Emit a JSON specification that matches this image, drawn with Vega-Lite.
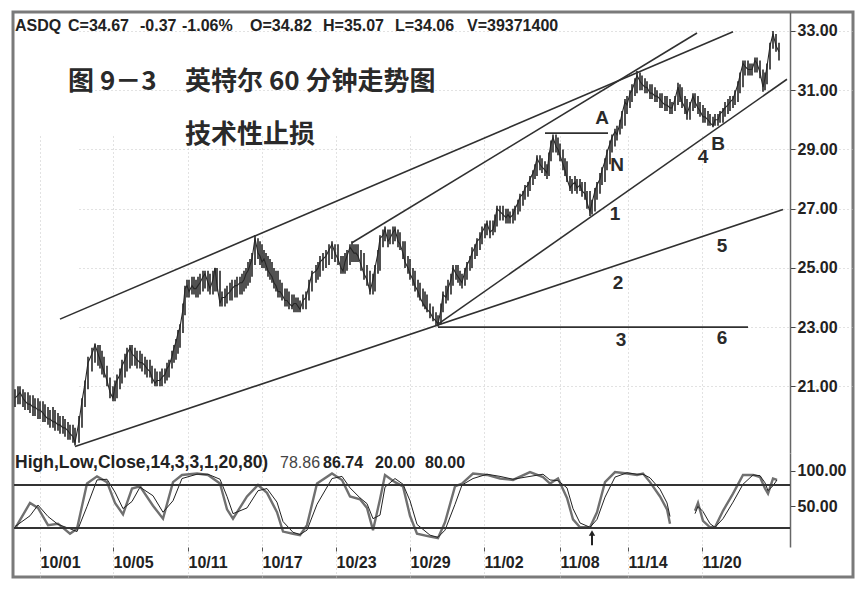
{
"$schema":"https://vega.github.io/schema/vega-lite/v6.json",
"width":840,"height":565,
"autosize":{"type":"none"},
"padding":{"left":13,"top":12,"right":13,"bottom":16},
"background":"white",
"config":{"font":"Liberation Sans","view":{"stroke":"#7a7a7a","strokeWidth":3}},
"datasets":{
"bars":[
{"t":1,"h":20.9,"l":20.3,"c":20.6},{"t":4,"h":21.0,"l":20.4,"c":20.7},{"t":6,"h":21.0,"l":20.4,"c":20.8},{"t":9,"h":20.9,"l":20.3,"c":20.6},{"t":11,"h":20.8,"l":20.2,"c":20.5},{"t":14,"h":20.8,"l":20.2,"c":20.4},{"t":16,"h":20.7,"l":20.1,"c":20.4},{"t":19,"h":20.7,"l":20.0,"c":20.3},{"t":21,"h":20.6,"l":20.0,"c":20.3},{"t":24,"h":20.6,"l":19.9,"c":20.2},{"t":26,"h":20.5,"l":19.9,"c":20.2},{"t":29,"h":20.5,"l":19.8,"c":20.1},{"t":31,"h":20.4,"l":19.8,"c":20.0},{"t":34,"h":20.3,"l":19.7,"c":19.9},{"t":36,"h":20.2,"l":19.6,"c":19.9},{"t":39,"h":20.3,"l":19.6,"c":19.8},{"t":41,"h":20.2,"l":19.5,"c":19.8},{"t":44,"h":20.1,"l":19.5,"c":19.7},{"t":46,"h":20.0,"l":19.4,"c":19.7},{"t":49,"h":20.0,"l":19.4,"c":19.6},{"t":51,"h":19.9,"l":19.3,"c":19.6},{"t":54,"h":19.8,"l":19.2,"c":19.5},{"t":56,"h":19.7,"l":19.2,"c":19.4},{"t":59,"h":19.7,"l":19.1,"c":19.3},{"t":61,"h":19.6,"l":19.0,"c":19.1},{"t":65,"h":20.0,"l":19.1,"c":19.8},{"t":68,"h":20.6,"l":19.6,"c":20.5},{"t":71,"h":21.2,"l":20.3,"c":21.1},{"t":74,"h":22.0,"l":20.9,"c":21.8},{"t":78,"h":22.3,"l":21.5,"c":22.1},{"t":81,"h":22.45,"l":21.8,"c":22.4},{"t":84,"h":22.4,"l":21.7,"c":22.1},{"t":86,"h":22.4,"l":21.6,"c":21.9},{"t":88,"h":22.2,"l":21.4,"c":21.7},{"t":90,"h":22.0,"l":21.3,"c":21.5},{"t":93,"h":21.7,"l":21.0,"c":21.2},{"t":96,"h":21.3,"l":20.6,"c":20.8},{"t":99,"h":21.0,"l":20.5,"c":20.6},
{"t":101,"h":21.2,"l":20.5,"c":21.0},{"t":103,"h":21.4,"l":20.6,"c":21.2},{"t":106,"h":21.6,"l":20.9,"c":21.4},{"t":108,"h":21.9,"l":21.1,"c":21.7},{"t":111,"h":22.1,"l":21.3,"c":21.9},{"t":113,"h":22.3,"l":21.5,"c":22.1},{"t":116,"h":22.4,"l":21.6,"c":22.3},{"t":118,"h":22.4,"l":21.7,"c":22.1},{"t":121,"h":22.3,"l":21.7,"c":22.0},{"t":123,"h":22.2,"l":21.6,"c":21.9},{"t":126,"h":22.2,"l":21.6,"c":21.8},{"t":128,"h":22.1,"l":21.5,"c":21.8},{"t":131,"h":22.0,"l":21.4,"c":21.7},{"t":133,"h":21.9,"l":21.3,"c":21.6},{"t":136,"h":21.9,"l":21.3,"c":21.5},{"t":138,"h":21.7,"l":21.1,"c":21.3},{"t":141,"h":21.6,"l":21.0,"c":21.1},{"t":143,"h":21.5,"l":21.0,"c":21.2},{"t":146,"h":21.5,"l":21.0,"c":21.2},{"t":148,"h":21.6,"l":21.0,"c":21.3},{"t":151,"h":21.6,"l":21.1,"c":21.4},{"t":153,"h":21.8,"l":21.2,"c":21.6},{"t":155,"h":21.9,"l":21.3,"c":21.7},{"t":158,"h":22.2,"l":21.6,"c":22.0},{"t":160,"h":22.4,"l":21.8,"c":22.3},{"t":162,"h":22.6,"l":21.9,"c":22.5},{"t":164,"h":22.9,"l":22.1,"c":22.8},{"t":166,"h":23.1,"l":22.3,"c":23.0},{"t":169,"h":23.8,"l":22.8,"c":23.6},{"t":171,"h":24.4,"l":23.4,"c":24.3},{"t":173,"h":24.6,"l":24.0,"c":24.4},{"t":175,"h":24.6,"l":24.0,"c":24.2},{"t":178,"h":24.7,"l":24.1,"c":24.4},{"t":180,"h":24.7,"l":24.1,"c":24.3},{"t":182,"h":24.6,"l":24.0,"c":24.3},{"t":184,"h":24.7,"l":24.0,"c":24.4},{"t":186,"h":24.8,"l":24.1,"c":24.5},{"t":189,"h":24.9,"l":24.2,"c":24.7},{"t":191,"h":24.9,"l":24.3,"c":24.8},{"t":194,"h":24.9,"l":24.2,"c":24.5},{"t":196,"h":24.8,"l":24.1,"c":24.3},{"t":199,"h":24.9,"l":24.1,"c":24.6},{"t":201,"h":25.0,"l":24.2,"c":25.0},
{"t":203,"h":25.0,"l":24.2,"c":24.4},{"t":206,"h":24.9,"l":23.7,"c":23.8},{"t":208,"h":24.2,"l":23.7,"c":24.0},{"t":211,"h":24.3,"l":23.7,"c":24.0},{"t":213,"h":24.4,"l":23.8,"c":24.1},{"t":216,"h":24.5,"l":23.9,"c":24.2},{"t":218,"h":24.6,"l":23.9,"c":24.3},{"t":221,"h":24.6,"l":24.0,"c":24.4},{"t":223,"h":24.7,"l":24.0,"c":24.4},{"t":226,"h":24.7,"l":24.1,"c":24.5},{"t":228,"h":24.8,"l":24.1,"c":24.5},{"t":230,"h":24.9,"l":24.2,"c":24.6},{"t":232,"h":25.0,"l":24.3,"c":24.8},{"t":234,"h":25.2,"l":24.4,"c":24.9},{"t":236,"h":25.3,"l":24.5,"c":25.1},{"t":238,"h":25.5,"l":24.7,"c":25.3},{"t":241,"h":26.1,"l":25.1,"c":26.0},{"t":244,"h":26.0,"l":25.3,"c":25.5},{"t":246,"h":25.9,"l":25.1,"c":25.4},{"t":248,"h":25.8,"l":25.0,"c":25.2},{"t":250,"h":25.6,"l":25.0,"c":25.3},{"t":252,"h":25.5,"l":24.9,"c":25.1},{"t":254,"h":25.4,"l":24.7,"c":24.9},{"t":256,"h":25.3,"l":24.6,"c":24.8},{"t":258,"h":25.2,"l":24.5,"c":24.7},{"t":260,"h":25.0,"l":24.3,"c":24.5},{"t":262,"h":24.9,"l":24.2,"c":24.4},{"t":264,"h":24.9,"l":24.0,"c":24.2},{"t":266,"h":24.6,"l":24.0,"c":24.2},{"t":268,"h":24.5,"l":23.9,"c":24.1},{"t":271,"h":24.3,"l":23.7,"c":23.9},{"t":273,"h":24.3,"l":23.7,"c":23.9},{"t":275,"h":24.2,"l":23.6,"c":23.8},{"t":278,"h":24.1,"l":23.6,"c":23.7},{"t":280,"h":24.1,"l":23.5,"c":23.8},{"t":282,"h":24.0,"l":23.5,"c":23.8},{"t":284,"h":24.0,"l":23.5,"c":23.7},{"t":286,"h":23.9,"l":23.5,"c":23.6},{"t":289,"h":24.1,"l":23.6,"c":23.9},{"t":292,"h":24.2,"l":23.6,"c":24.0},{"t":295,"h":24.6,"l":23.9,"c":24.4},{"t":298,"h":24.9,"l":24.2,"c":24.8},
{"t":302,"h":25.1,"l":24.5,"c":24.9},{"t":304,"h":25.2,"l":24.6,"c":25.0},{"t":306,"h":25.4,"l":24.7,"c":25.2},{"t":309,"h":25.5,"l":24.9,"c":25.3},{"t":312,"h":25.6,"l":25.0,"c":25.4},{"t":315,"h":25.8,"l":25.1,"c":25.6},{"t":318,"h":25.9,"l":25.3,"c":25.8},{"t":321,"h":25.8,"l":25.2,"c":25.5},{"t":324,"h":25.8,"l":25.1,"c":25.3},{"t":327,"h":25.4,"l":24.8,"c":25.0},{"t":329,"h":25.4,"l":24.8,"c":24.9},{"t":331,"h":25.5,"l":24.8,"c":25.2},{"t":333,"h":25.6,"l":24.9,"c":25.4},{"t":336,"h":25.8,"l":25.1,"c":25.7},{"t":338,"h":25.9,"l":25.2,"c":25.6},{"t":340,"h":25.8,"l":25.2,"c":25.5},{"t":342,"h":25.8,"l":25.2,"c":25.5},{"t":344,"h":25.8,"l":25.2,"c":25.4},{"t":347,"h":25.6,"l":24.9,"c":25.1},{"t":350,"h":25.5,"l":24.6,"c":24.8},{"t":353,"h":25.1,"l":24.4,"c":24.6},{"t":356,"h":24.9,"l":24.1,"c":24.2},{"t":359,"h":24.8,"l":24.1,"c":24.6},{"t":361,"h":25.1,"l":24.2,"c":25.0},{"t":364,"h":25.6,"l":24.8,"c":25.5},{"t":366,"h":26.1,"l":24.9,"c":26.0},{"t":369,"h":26.3,"l":25.7,"c":26.1},{"t":371,"h":26.4,"l":25.9,"c":26.3},{"t":374,"h":26.3,"l":25.7,"c":25.9},{"t":376,"h":26.3,"l":25.8,"c":26.0},{"t":379,"h":26.4,"l":25.8,"c":26.2},{"t":381,"h":26.4,"l":25.9,"c":26.3},{"t":384,"h":26.3,"l":25.7,"c":25.9},{"t":386,"h":26.2,"l":25.6,"c":25.8},{"t":389,"h":25.9,"l":25.3,"c":25.5},{"t":391,"h":25.9,"l":25.0,"c":25.2},{"t":394,"h":25.4,"l":24.8,"c":25.0},{"t":396,"h":25.3,"l":24.6,"c":24.8},{"t":399,"h":25.0,"l":24.4,"c":24.6},
{"t":401,"h":24.9,"l":24.2,"c":24.4},{"t":404,"h":24.6,"l":24.0,"c":24.2},{"t":406,"h":24.5,"l":23.9,"c":24.0},{"t":409,"h":24.3,"l":23.7,"c":23.8},{"t":411,"h":24.2,"l":23.6,"c":23.7},{"t":413,"h":24.1,"l":23.5,"c":23.6},{"t":416,"h":23.8,"l":23.3,"c":23.5},{"t":419,"h":23.7,"l":23.2,"c":23.3},{"t":422,"h":23.5,"l":23.05,"c":23.2},{"t":424,"h":23.4,"l":23.02,"c":23.1},{"t":427,"h":23.8,"l":23.1,"c":23.6},{"t":429,"h":24.2,"l":23.5,"c":24.1},{"t":432,"h":24.4,"l":23.8,"c":24.0},{"t":434,"h":24.6,"l":23.9,"c":24.3},{"t":437,"h":24.8,"l":24.1,"c":24.6},{"t":439,"h":25.1,"l":24.4,"c":25.0},{"t":442,"h":25.1,"l":24.6,"c":24.8},{"t":444,"h":25.1,"l":24.5,"c":24.7},{"t":446,"h":24.9,"l":24.4,"c":24.6},{"t":448,"h":24.8,"l":24.3,"c":24.5},{"t":451,"h":25.0,"l":24.4,"c":24.9},{"t":453,"h":25.2,"l":24.6,"c":25.1},{"t":456,"h":25.4,"l":24.9,"c":25.3},{"t":458,"h":25.7,"l":25.0,"c":25.5},{"t":461,"h":25.8,"l":25.3,"c":25.7},{"t":463,"h":26.0,"l":25.4,"c":25.9},{"t":466,"h":26.2,"l":25.6,"c":26.0},{"t":468,"h":26.4,"l":25.8,"c":26.2},{"t":471,"h":26.5,"l":26.0,"c":26.4},{"t":473,"h":26.6,"l":26.1,"c":26.5},{"t":476,"h":26.6,"l":26.0,"c":26.2},{"t":479,"h":26.6,"l":26.1,"c":26.3},{"t":481,"h":26.8,"l":26.2,"c":26.6},{"t":483,"h":27.1,"l":26.4,"c":27.0},{"t":486,"h":27.1,"l":26.6,"c":26.9},{"t":489,"h":27.1,"l":26.6,"c":26.8},{"t":492,"h":27.0,"l":26.5,"c":26.7},{"t":494,"h":27.0,"l":26.5,"c":26.8},{"t":496,"h":26.9,"l":26.5,"c":26.7},{"t":499,"h":27.0,"l":26.5,"c":26.8},
{"t":501,"h":27.1,"l":26.6,"c":27.0},{"t":504,"h":27.3,"l":26.8,"c":27.2},{"t":506,"h":27.5,"l":26.9,"c":27.4},{"t":509,"h":27.6,"l":27.1,"c":27.5},{"t":511,"h":27.8,"l":27.3,"c":27.7},{"t":514,"h":27.9,"l":27.4,"c":27.8},{"t":516,"h":28.1,"l":27.6,"c":28.0},{"t":519,"h":28.3,"l":27.8,"c":28.2},{"t":521,"h":28.5,"l":28.0,"c":28.4},{"t":523,"h":28.8,"l":28.1,"c":28.7},{"t":526,"h":28.8,"l":28.3,"c":28.5},{"t":528,"h":28.7,"l":28.2,"c":28.4},{"t":531,"h":28.6,"l":28.1,"c":28.3},{"t":533,"h":28.5,"l":28.0,"c":28.2},{"t":535,"h":28.9,"l":28.1,"c":28.8},{"t":537,"h":29.3,"l":28.6,"c":29.2},{"t":539,"h":29.5,"l":28.9,"c":29.4},{"t":542,"h":29.5,"l":28.9,"c":29.1},{"t":544,"h":29.4,"l":28.8,"c":29.0},{"t":546,"h":29.2,"l":28.6,"c":28.8},{"t":549,"h":29.0,"l":28.3,"c":28.5},{"t":551,"h":28.7,"l":28.1,"c":28.3},{"t":553,"h":28.6,"l":27.9,"c":28.0},{"t":556,"h":28.1,"l":27.6,"c":27.7},{"t":558,"h":28.0,"l":27.5,"c":27.8},{"t":561,"h":28.1,"l":27.6,"c":27.9},{"t":563,"h":28.0,"l":27.5,"c":27.7},{"t":566,"h":28.0,"l":27.6,"c":27.8},{"t":568,"h":27.9,"l":27.4,"c":27.6},{"t":571,"h":27.9,"l":27.3,"c":27.5},{"t":573,"h":27.6,"l":27.0,"c":27.2},{"t":576,"h":27.6,"l":26.75,"c":26.9},{"t":578,"h":27.3,"l":26.8,"c":27.2},{"t":581,"h":27.7,"l":26.9,"c":27.6},{"t":583,"h":27.9,"l":27.3,"c":27.8},{"t":586,"h":28.2,"l":27.5,"c":28.0},{"t":588,"h":28.4,"l":27.8,"c":28.3},{"t":591,"h":28.7,"l":27.9,"c":28.6},{"t":593,"h":29.0,"l":28.3,"c":28.9},{"t":596,"h":29.3,"l":28.5,"c":29.2},{"t":598,"h":29.5,"l":28.9,"c":29.4},
{"t":601,"h":29.7,"l":29.1,"c":29.6},{"t":603,"h":29.8,"l":29.3,"c":29.5},{"t":606,"h":30.0,"l":29.5,"c":29.9},{"t":608,"h":30.3,"l":29.7,"c":30.2},{"t":611,"h":30.7,"l":29.8,"c":30.6},{"t":613,"h":30.8,"l":30.2,"c":30.5},{"t":616,"h":31.0,"l":30.4,"c":30.9},{"t":618,"h":31.2,"l":30.6,"c":31.0},{"t":621,"h":31.4,"l":30.8,"c":31.3},{"t":623,"h":31.65,"l":30.9,"c":31.5},{"t":626,"h":31.6,"l":31.0,"c":31.3},{"t":628,"h":31.5,"l":31.0,"c":31.2},{"t":631,"h":31.4,"l":30.9,"c":31.1},{"t":633,"h":31.3,"l":30.9,"c":31.1},{"t":636,"h":31.2,"l":30.7,"c":30.9},{"t":638,"h":31.2,"l":30.7,"c":30.9},{"t":641,"h":31.1,"l":30.6,"c":30.8},{"t":643,"h":31.0,"l":30.6,"c":30.8},{"t":646,"h":30.9,"l":30.4,"c":30.7},{"t":648,"h":30.9,"l":30.4,"c":30.6},{"t":651,"h":30.8,"l":30.3,"c":30.5},{"t":653,"h":30.8,"l":30.3,"c":30.5},{"t":656,"h":30.7,"l":30.2,"c":30.4},{"t":658,"h":30.6,"l":30.2,"c":30.4},{"t":661,"h":30.8,"l":30.3,"c":30.7},{"t":664,"h":31.25,"l":30.5,"c":31.1},{"t":666,"h":31.2,"l":30.6,"c":30.8},{"t":668,"h":31.1,"l":30.4,"c":30.6},{"t":671,"h":30.8,"l":30.2,"c":30.4},{"t":673,"h":30.7,"l":30.0,"c":30.2},{"t":676,"h":30.6,"l":30.0,"c":30.5},{"t":679,"h":30.9,"l":30.3,"c":30.8},{"t":681,"h":30.9,"l":30.4,"c":30.6},{"t":684,"h":30.8,"l":30.2,"c":30.4},{"t":686,"h":30.6,"l":30.1,"c":30.3},{"t":689,"h":30.5,"l":29.9,"c":30.1},{"t":691,"h":30.4,"l":29.9,"c":30.1},{"t":694,"h":30.3,"l":29.8,"c":30.0},{"t":696,"h":30.2,"l":29.8,"c":29.9},{"t":699,"h":30.1,"l":29.75,"c":29.8},
{"t":701,"h":30.2,"l":29.8,"c":30.0},{"t":704,"h":30.2,"l":29.8,"c":30.0},{"t":706,"h":30.3,"l":29.9,"c":30.2},{"t":709,"h":30.4,"l":29.9,"c":30.3},{"t":711,"h":30.6,"l":30.1,"c":30.4},{"t":714,"h":30.7,"l":30.2,"c":30.5},{"t":716,"h":30.8,"l":30.3,"c":30.6},{"t":719,"h":30.8,"l":30.4,"c":30.7},{"t":721,"h":31.0,"l":30.5,"c":30.9},{"t":724,"h":31.3,"l":30.6,"c":31.2},{"t":726,"h":31.6,"l":30.9,"c":31.5},{"t":729,"h":32.0,"l":31.1,"c":31.9},{"t":731,"h":32.0,"l":31.5,"c":31.8},{"t":734,"h":32.0,"l":31.5,"c":31.7},{"t":736,"h":31.9,"l":31.5,"c":31.7},{"t":738,"h":31.9,"l":31.5,"c":31.7},{"t":741,"h":32.1,"l":31.6,"c":32.0},{"t":743,"h":32.1,"l":31.6,"c":31.9},{"t":746,"h":32.0,"l":31.4,"c":31.6},{"t":749,"h":31.7,"l":30.95,"c":31.1},{"t":751,"h":31.6,"l":31.0,"c":31.4},{"t":753,"h":31.9,"l":31.2,"c":31.8},{"t":756,"h":32.6,"l":31.7,"c":32.5},{"t":759,"h":33.0,"l":32.4,"c":32.9},{"t":762,"h":32.9,"l":32.3,"c":32.5},{"t":765,"h":32.6,"l":32.0,"c":32.3}
],
"trend":[
{"id":"top","t":46,"p":23.27},{"id":"top","t":719,"p":32.97},
{"id":"upper2","t":338,"p":25.85},{"id":"upper2","t":683,"p":32.93},
{"id":"bottom","t":61,"p":18.97},{"id":"bottom","t":769,"p":26.97},
{"id":"line1","t":424,"p":23.1},{"id":"line1","t":773,"p":31.37},
{"id":"line3","t":424,"p":23.0},{"id":"line3","t":734,"p":23.0},
{"id":"lineA","t":531,"p":29.55},{"id":"lineA","t":594,"p":29.55}
],
"notes":[
{"t":588,"p":30.05,"label":"A"},{"t":603,"p":28.46,"label":"N"},{"t":601,"p":26.83,"label":"1"},
{"t":689,"p":28.76,"label":"4"},{"t":704,"p":29.17,"label":"B"},{"t":708,"p":25.75,"label":"5"},
{"t":604,"p":24.49,"label":"2"},{"t":607,"p":22.56,"label":"3"},{"t":708,"p":22.63,"label":"6"}
],
"titles":[
{"t":54,"p":31.27,"label":"图 9－3"},{"t":171,"p":31.27,"label":"英特尔 60 分钟走势图"},{"t":171,"p":29.48,"label":"技术性止损"}
],
"headers":[
{"t":1,"p":33.17,"label":"ASDQ"},{"t":54,"p":33.17,"label":"C=34.67"},{"t":126,"p":33.17,"label":"-0.37"},{"t":168,"p":33.17,"label":"-1.06%"},
{"t":236,"p":33.17,"label":"O=34.82"},{"t":309,"p":33.17,"label":"H=35.07"},{"t":381,"p":33.17,"label":"L=34.06"},{"t":453,"p":33.17,"label":"V=39371400"}
],
"stochheader":[
{"t":1,"v":111,"label":"High,Low,Close,14,3,3,1,20,80)"}
],
"stochfirst":[
{"t":266,"v":111,"label":"78.86"}
],
"stochvalues":[
{"t":309,"v":111,"label":"86.74"},{"t":361,"v":111,"label":"20.00"},{"t":411,"v":111,"label":"80.00"}
],
"arrow":[
{"t":578,"lo":-4,"hi":13}
],
"stoch":[
{"seg":1,"t":1,"k":19,"d":22},{"seg":1,"t":16,"k":55,"d":37},{"seg":1,"t":24,"k":48,"d":52},{"seg":1,"t":34,"k":24,"d":36},{"seg":1,"t":44,"k":26,"d":25},{"seg":1,"t":56,"k":12,"d":19},{"seg":1,"t":63,"k":19,"d":15},{"seg":1,"t":73,"k":82,"d":50},{"seg":1,"t":83,"k":92,"d":87},{"seg":1,"t":93,"k":84,"d":88},{"seg":1,"t":101,"k":55,"d":70},{"seg":1,"t":109,"k":39,"d":47},{"seg":1,"t":118,"k":75,"d":57},{"seg":1,"t":126,"k":78,"d":77},{"seg":1,"t":139,"k":51,"d":65},{"seg":1,"t":149,"k":33,"d":42},{"seg":1,"t":159,"k":84,"d":58},{"seg":1,"t":168,"k":94,"d":89},{"seg":1,"t":183,"k":96,"d":95},{"seg":1,"t":194,"k":94,"d":95},{"seg":1,"t":206,"k":82,"d":88},{"seg":1,"t":213,"k":46,"d":64},{"seg":1,"t":219,"k":33,"d":40},{"seg":1,"t":233,"k":64,"d":48},{"seg":1,"t":244,"k":80,"d":72},{"seg":1,"t":253,"k":69,"d":75},{"seg":1,"t":263,"k":42,"d":56},{"seg":1,"t":269,"k":15,"d":29},{"seg":1,"t":279,"k":12,"d":14},{"seg":1,"t":286,"k":10,"d":11},{"seg":1,"t":293,"k":24,"d":17},{"seg":1,"t":303,"k":82,"d":53},{"seg":1,"t":318,"k":96,"d":89},{"seg":1,"t":328,"k":87,"d":92},{"seg":1,"t":336,"k":64,"d":76},{"seg":1,"t":346,"k":60,"d":62},{"seg":1,"t":353,"k":48,"d":54},{"seg":1,"t":359,"k":17,"d":33},{"seg":1,"t":366,"k":60,"d":38},{"seg":1,"t":371,"k":94,"d":77},{"seg":1,"t":381,"k":84,"d":89},{"seg":1,"t":389,"k":78,"d":81},{"seg":1,"t":396,"k":37,"d":58},{"seg":1,"t":403,"k":12,"d":25},{"seg":1,"t":416,"k":8,"d":10},{"seg":1,"t":424,"k":6,"d":7},{"seg":1,"t":431,"k":28,"d":17},{"seg":1,"t":441,"k":78,"d":53},{"seg":1,"t":448,"k":82,"d":80},{"seg":1,"t":459,"k":96,"d":89},{"seg":1,"t":473,"k":94,"d":95},{"seg":1,"t":486,"k":89,"d":92},{"seg":1,"t":499,"k":87,"d":88},{"seg":1,"t":516,"k":98,"d":92},{"seg":1,"t":529,"k":91,"d":95},{"seg":1,"t":536,"k":82,"d":87},{"seg":1,"t":544,"k":89,"d":86},{"seg":1,"t":553,"k":62,"d":76},{"seg":1,"t":559,"k":32,"d":47},{"seg":1,"t":566,"k":21,"d":27},{"seg":1,"t":576,"k":21,"d":21},{"seg":1,"t":583,"k":42,"d":32},{"seg":1,"t":591,"k":84,"d":63},{"seg":1,"t":601,"k":98,"d":91},{"seg":1,"t":613,"k":96,"d":97},{"seg":1,"t":623,"k":94,"d":95},{"seg":1,"t":629,"k":96,"d":95},{"seg":1,"t":636,"k":84,"d":90},{"seg":1,"t":646,"k":64,"d":74},{"seg":1,"t":653,"k":46,"d":55},{"seg":1,"t":656,"k":26,"d":36},
{"seg":2,"t":681,"k":44,"d":40},{"seg":2,"t":684,"k":55,"d":50},{"seg":2,"t":689,"k":30,"d":43},{"seg":2,"t":696,"k":21,"d":26},{"seg":2,"t":701,"k":21,"d":21},{"seg":2,"t":709,"k":44,"d":33},{"seg":2,"t":719,"k":68,"d":56},{"seg":2,"t":729,"k":94,"d":81},{"seg":2,"t":739,"k":94,"d":94},{"seg":2,"t":746,"k":91,"d":93},{"seg":2,"t":751,"k":75,"d":83},{"seg":2,"t":754,"k":68,"d":72},{"seg":2,"t":759,"k":89,"d":79},{"seg":2,"t":763,"k":87,"d":87}
],
"levels":[{"v":80},{"v":20}]
},
"layer":[
{"layer":[
{"data":{"name":"bars"},"mark":{"type":"rule","color":"#262626","strokeWidth":1.6},
 "encoding":{
  "x":{"field":"t","type":"quantitative","scale":{"domain":[0,776],"range":[1,777],"nice":false,"zero":false},
   "axis":{"orient":"bottom","offset":-30,"title":null,"values":[26,99,174,248,322,396,470,546,614,688],
    "labelExpr":"['10/01','10/05','10/11','10/17','10/23','10/29','11/02','11/08','11/14','11/20'][indexof([26,99,174,248,322,396,470,546,614,688], datum.value)]",
    "labelAlign":"left","labelFontSize":16,"labelFontWeight":"bold","labelColor":"#222","labelPadding":3,"tickSize":4,"tickColor":"#555","domain":false,
    "grid":true,"gridColor":"#c4c4c4","gridDash":[1,3]}},
  "y":{"field":"l","type":"quantitative","scale":{"domain":[18.75,33.64],"range":[441,0],"nice":false,"zero":false},
   "axis":{"orient":"right","offset":-63,"title":null,"values":[21,23,25,27,29,31,33],"format":".2f","labelFontSize":16,"labelFontWeight":"bold","labelColor":"#222","labelPadding":2,"tickSize":5,"tickColor":"#444","domainColor":"#666","domainWidth":1.5,
    "grid":true,"gridColor":"#c4c4c4","gridDash":[1,3]}},
  "y2":{"field":"h"}}},
{"data":{"name":"bars"},"mark":{"type":"line","color":"#262626","strokeWidth":1.1},
 "encoding":{"x":{"field":"t","type":"quantitative"},"y":{"field":"c","type":"quantitative"}}},
{"data":{"name":"trend"},"mark":{"type":"line","color":"#303030","strokeWidth":1.6},
 "encoding":{"x":{"field":"t","type":"quantitative"},"y":{"field":"p","type":"quantitative"},"detail":{"field":"id"}}},
{"data":{"name":"notes"},"mark":{"type":"text","fontSize":19,"fontWeight":"bold","color":"#2a2a2a","font":"Liberation Sans"},
 "encoding":{"x":{"field":"t","type":"quantitative"},"y":{"field":"p","type":"quantitative"},"text":{"field":"label"}}},
{"data":{"name":"titles"},"mark":{"type":"text","fontSize":26,"fontWeight":"bold","color":"#2a2a2a","font":"Noto Sans CJK SC","align":"left","baseline":"middle"},
 "encoding":{"x":{"field":"t","type":"quantitative"},"y":{"field":"p","type":"quantitative"},"text":{"field":"label"}}},
{"data":{"name":"headers"},"mark":{"type":"text","align":"left","baseline":"middle","fontSize":16,"fontWeight":"bold","color":"#222"},
 "encoding":{"x":{"field":"t","type":"quantitative"},"y":{"field":"p","type":"quantitative"},"text":{"field":"label"}}},
{"mark":{"type":"rect","color":"#1e1e1e"},
 "encoding":{"x":{"datum":779},"x2":{"datum":836},"y":{"datum":32.53},"y2":{"datum":31.87}}},
{"mark":{"type":"text","color":"#e8e8e8","fontSize":15,"fontWeight":"bold","baseline":"middle"},
 "encoding":{"x":{"datum":807},"y":{"datum":32.2},"text":{"value":"32.32"}}},
{"mark":{"type":"rule","color":"#555","strokeWidth":1.5},"encoding":{"y":{"datum":18.75}}}
]},
{"layer":[
{"data":{"name":"stoch"},"mark":{"type":"line","color":"#707070","strokeWidth":2.4},
 "encoding":{"x":{"field":"t","type":"quantitative"},
  "y":{"field":"k","type":"quantitative","scale":{"domain":[-6.5,124.6],"range":[535,441],"nice":false,"zero":false},
   "axis":{"orient":"right","offset":-63,"title":null,"values":[50,100],"format":".2f","labelFontSize":16,"labelFontWeight":"bold","labelColor":"#222","labelPadding":2,"tickSize":5,"tickColor":"#444","domainColor":"#666","domainWidth":1.5,"grid":false}},
  "detail":{"field":"seg"}}},
{"data":{"name":"stoch"},"mark":{"type":"line","color":"#222","strokeWidth":1},
 "encoding":{"x":{"field":"t","type":"quantitative"},"y":{"field":"d","type":"quantitative"},"detail":{"field":"seg"}}},
{"data":{"name":"levels"},"mark":{"type":"rule","color":"#333","strokeWidth":2},
 "encoding":{"y":{"field":"v","type":"quantitative"},"x":{"datum":0.01},"x2":{"datum":776}}},
{"mark":{"type":"rule","color":"#555","strokeWidth":1.5},"encoding":{"y":{"datum":-6.5}}},
{"data":{"name":"stochheader"},"mark":{"type":"text","align":"left","baseline":"middle","fontSize":17.5,"fontWeight":"bold","color":"#222"},
 "encoding":{"x":{"field":"t","type":"quantitative"},"y":{"field":"v","type":"quantitative"},"text":{"field":"label"}}},
{"data":{"name":"stochfirst"},"mark":{"type":"text","align":"left","baseline":"middle","fontSize":16,"fontWeight":"normal","color":"#444"},
 "encoding":{"x":{"field":"t","type":"quantitative"},"y":{"field":"v","type":"quantitative"},"text":{"field":"label"}}},
{"data":{"name":"stochvalues"},"mark":{"type":"text","align":"left","baseline":"middle","fontSize":16,"fontWeight":"bold","color":"#222"},
 "encoding":{"x":{"field":"t","type":"quantitative"},"y":{"field":"v","type":"quantitative"},"text":{"field":"label"}}},
{"data":{"name":"arrow"},"mark":{"type":"rule","color":"#222","strokeWidth":2},
 "encoding":{"x":{"field":"t","type":"quantitative"},"y":{"field":"lo","type":"quantitative"},"y2":{"field":"hi"}}},
{"data":{"name":"arrow"},"mark":{"type":"point","shape":"triangle-up","filled":true,"color":"#222","size":40,"opacity":1},
 "encoding":{"x":{"field":"t","type":"quantitative"},"y":{"field":"hi","type":"quantitative"}}},
{"mark":{"type":"rect","color":"#1e1e1e"},
 "encoding":{"x":{"datum":779},"x2":{"datum":836},"y":{"datum":96.7},"y2":{"datum":73}}},
{"mark":{"type":"text","color":"#e8e8e8","fontSize":15,"fontWeight":"bold","baseline":"middle"},
 "encoding":{"x":{"datum":807},"y":{"datum":85},"text":{"value":"86.74"}}}
]}
],
"resolve":{"scale":{"y":"independent"},"axis":{"y":"independent"}}
}
